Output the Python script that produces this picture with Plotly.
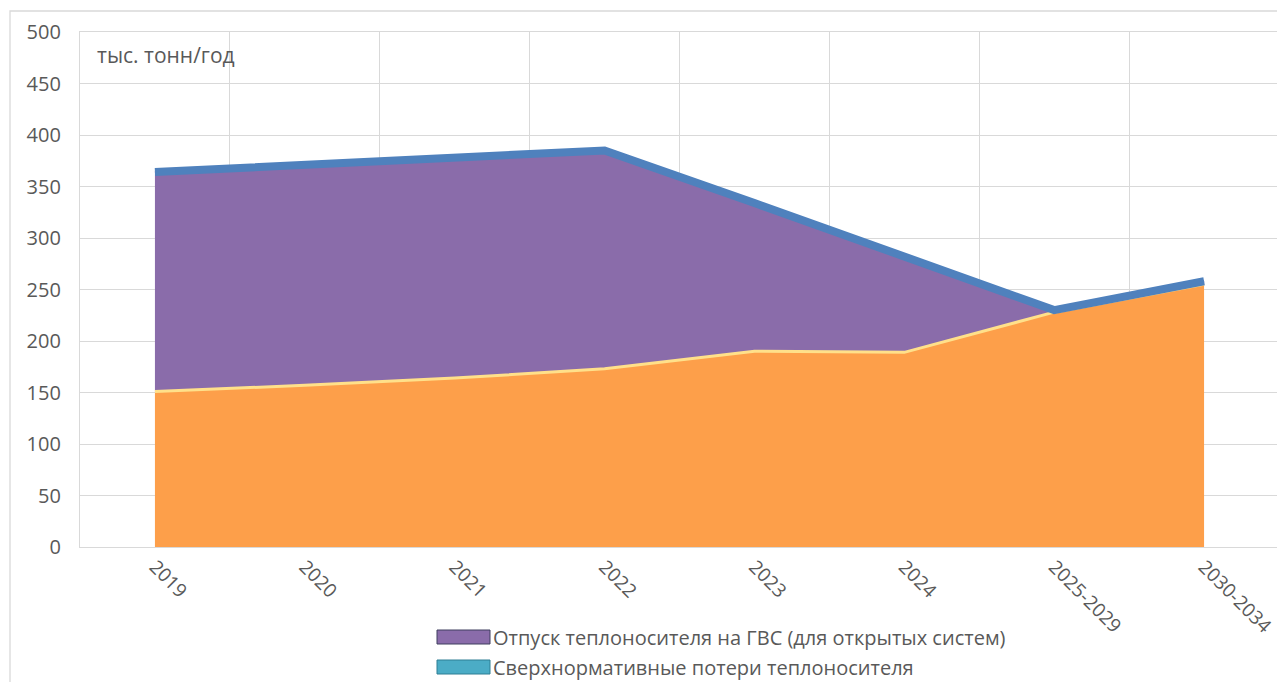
import plotly.graph_objects as go

categories = ["2019", "2020", "2021", "2022", "2023", "2024", "2025-2029", "2030-2034"]
normative_losses = [151, 157, 164, 173, 190, 189, 228, 255]
hot_water_open = [213, 214, 214, 212, 144, 93, 2, 3]
excess_losses = [0, 0, 0, 0, 0, 0, 0, 0]
total = [364, 371, 378, 385, 334, 282, 230, 258]

legend_names = ["Отпуск теплоносителя на ГВС (для открытых систем)",
                "Сверхнормативные потери теплоносителя"]
legend_colors = ["#8A6CAA", "#4BACC6"]

FONT = "Open Sans"
TXT = "#595959"

fig = go.Figure()
fig.add_trace(go.Scatter(x=categories, y=normative_losses, stackgroup="s", mode="lines",
                         line=dict(color="#FFE08A", width=3), fillcolor="#FD9F4A",
                         name="Нормативные потери", showlegend=False))
fig.add_trace(go.Scatter(x=categories, y=hot_water_open, stackgroup="s", mode="lines",
                         line=dict(color="#6A5290", width=2), fillcolor="#8A6CAA",
                         name=legend_names[0], showlegend=False))
fig.add_trace(go.Scatter(x=categories, y=excess_losses, stackgroup="s", mode="lines",
                         line=dict(color="#4BACC6", width=0), fillcolor="#4BACC6",
                         name=legend_names[1], showlegend=False))
fig.add_trace(go.Scatter(x=categories, y=total, mode="lines",
                         line=dict(color="#4F81BD", width=8), name="Итого", showlegend=False))

# page body has an 8px margin; figure is laid out in page coordinates minus that offset
OFF = 8
W, H = 1285 - OFF, 682 - OFF
L, T = 80 - OFF, 32 - OFF
R = W - (1279 - OFF)
B = H - (547 - OFF)
pw, ph = W - L - R, H - T - B


def px(x):
    return (x - OFF - L) / pw


def py(y):
    return (H - B - (y - OFF)) / ph


shapes = [dict(type="rect", xref="paper", yref="paper", x0=px(10), x1=1.2, y0=-0.6, y1=py(11),
               line=dict(color="#D9D9D9", width=1.3), fillcolor="rgba(0,0,0,0)", layer="below")]
annotations = [dict(text="тыс. тонн/год", xref="paper", yref="paper", x=px(95), y=py(55),
                    xanchor="left", yanchor="middle", showarrow=False,
                    font=dict(family=FONT, size=21, color=TXT))]
for i, (name, col) in enumerate(zip(legend_names, legend_colors)):
    cy = 637 + 30 * i
    shapes.append(dict(type="rect", xref="paper", yref="paper", x0=px(437), x1=px(490),
                       y0=py(cy + 7), y1=py(cy - 7), fillcolor=col,
                       line=dict(color="#3F3F5F" if i == 0 else "#2E7F94", width=1)))
    annotations.append(dict(text=name, xref="paper", yref="paper", x=px(491), y=py(cy),
                            xanchor="left", yanchor="middle", showarrow=False,
                            font=dict(family=FONT, size=20, color=TXT)))

fig.update_layout(
    width=W, height=H,
    margin=dict(l=L, r=R, t=T, b=B, autoexpand=False),
    paper_bgcolor="white", plot_bgcolor="white",
    showlegend=False,
    shapes=shapes, annotations=annotations,
    font=dict(family=FONT, color=TXT),
    xaxis=dict(type="category", range=[-0.5, 7.5], tickson="boundaries", showgrid=True,
               gridcolor="#D9D9D9", gridwidth=1.3, showline=True, linecolor="#D9D9D9",
               linewidth=1.3, mirror=True, ticks="", tickangle=45, automargin=False,
               tickfont=dict(family=FONT, size=19, color=TXT), fixedrange=True),
    yaxis=dict(range=[0, 500], dtick=50, showgrid=True, gridcolor="#D9D9D9", gridwidth=1.3,
               showline=True, linecolor="#D9D9D9", linewidth=1.3, mirror=True, ticks="",
               zeroline=False, automargin=False, ticklabelstandoff=14,
               tickfont=dict(family=FONT, size=20, color=TXT), fixedrange=True),
)

fig.write_html("out.html")
